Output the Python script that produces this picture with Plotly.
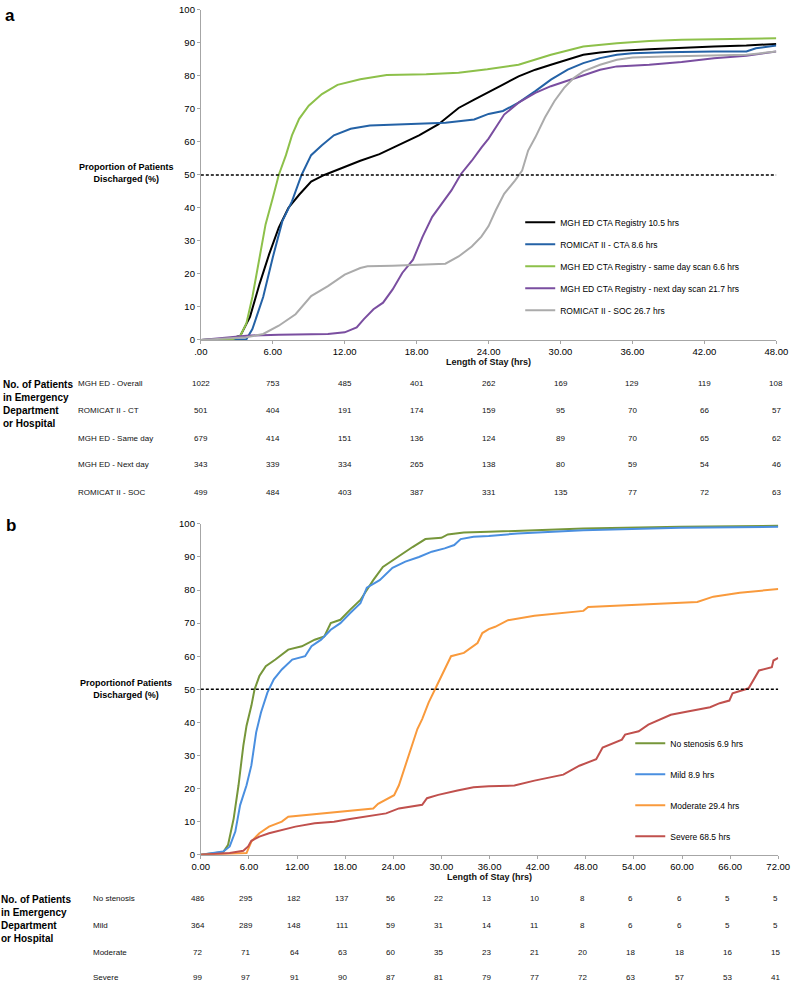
import plotly.graph_objects as go

W, H = 800, 988
FONT = "Arial, Liberation Sans, sans-serif"

# ---------------- Panel a data ----------------
a_names = ["MGH ED CTA Registry 10.5 hrs", "ROMICAT II - CTA 8.6 hrs",
           "MGH ED CTA Registry - same day scan 6.6 hrs",
           "MGH ED CTA Registry - next day scan 21.7 hrs", "ROMICAT II - SOC 26.7 hrs"]
a_colors = ["#000000", "#2462a6", "#8dc04a", "#7a4ea0", "#ababab"]

a_overall_x = [0, 2.4, 3.3, 4.1, 4.9, 5.7, 6.5, 7.3, 8.2, 9.2, 10.3, 12.0, 13.3, 14.9, 16.6, 18.2, 19.8,
               21.5, 22.8, 24.0, 25.2, 26.5, 27.9, 29.2, 30.6, 31.9, 33.3, 34.7, 37.4, 40.1, 42.8, 45.5, 48]
a_overall_y = [0, 0.3, 1.3, 7, 17, 26, 34, 40, 44, 48, 50, 52.5, 54.3, 56.3, 59.3, 62, 65.3,
               70.3, 72.8, 75, 77.4, 79.9, 81.9, 83.4, 84.9, 86.4, 87.1, 87.6, 88.1, 88.6, 88.9, 89.2, 89.7]

a_cta_x = [0, 3.8, 4.3, 5.2, 6.0, 6.8, 7.6, 8.4, 9.2, 10.1, 11.1, 12.5, 14.1, 17.4, 20.4, 22.8, 24.0, 25.2,
           26.5, 27.9, 29.2, 30.6, 31.9, 33.3, 34.7, 36.0, 38.7, 42.8, 45.5, 46.3, 48]
a_cta_y = [0, 0.2, 3.3, 13, 25, 36, 42, 50, 56, 59, 62, 64, 65, 65.5, 65.8, 66.8, 68.5, 69.4,
           71.9, 75.4, 78.9, 81.9, 83.9, 85.4, 86.4, 86.9, 87.2, 87.4, 87.4, 88.4, 89.2]

a_same_x = [0, 2.7, 3.3, 3.8, 4.3, 4.9, 5.4, 6.0, 6.5, 7.1, 7.6, 8.2, 9.0, 10.1, 11.4, 13.3, 15.5, 18.8,
            21.5, 23.9, 26.5, 29.2, 31.9, 34.7, 37.4, 40.1, 42.8, 48]
a_same_y = [0, 0.3, 1.3, 5, 13, 25, 35, 43, 50, 56, 62, 67, 71, 74.5, 77.3, 79, 80.3, 80.5,
            81, 82, 83.4, 86.4, 88.9, 89.9, 90.6, 91, 91.1, 91.4]

a_next_x = [0, 3.8, 6.5, 10.6, 12.0, 13.0, 13.6, 14.4, 15.2, 16.0, 16.8, 17.7, 18.5, 19.3, 20.1, 20.9,
            21.7, 22.6, 23.4, 24.0, 24.6, 25.3, 26.5, 27.9, 29.2, 30.6, 31.9, 33.3, 34.7, 37.4, 40.1,
            42.8, 45.5, 48]
a_next_y = [0, 1.3, 1.6, 1.8, 2.3, 3.8, 6.3, 9.3, 11.3, 15.3, 20.3, 24.3, 31.3, 37.3, 41.3, 45.3,
            50.3, 54.3, 58.3, 61, 64.4, 68.3, 71.9, 74.9, 76.9, 78.6, 80.4, 81.9, 82.9, 83.4, 84.2,
            85.4, 86.1, 87.4]

a_soc_x = [0, 3.8, 5.2, 6.5, 7.9, 9.2, 10.6, 12.0, 13.3, 13.9, 16.0, 18.8, 20.4, 21.5, 22.6, 23.4, 24.0,
           24.6, 25.3, 26.2, 26.8, 27.3, 27.9, 28.7, 29.5, 30.3, 31.1, 31.9, 33.3, 34.7, 36.0, 38.7,
           42.8, 45.5, 48]
a_soc_y = [0, 0.8, 1.8, 4.3, 7.8, 13.3, 16.3, 19.8, 21.8, 22.3, 22.5, 22.8, 23.1, 25.3, 28.3, 31.3, 34.5,
           39.3, 44.3, 48.3, 51.3, 57.4, 61.4, 67.4, 72.4, 76.4, 79.4, 81.4, 83.4, 84.9, 85.6, 85.9,
           86.2, 86.4, 87.4]

a_tickvals = [0, 6, 12, 18, 24, 30, 36, 42, 48]
a_ticktext = [".00", "6.00", "12.00", "18.00", "24.00", "30.00", "36.00", "42.00", "48.00"]

a_row_labels = ["MGH ED - Overall", "ROMICAT II - CT", "MGH ED - Same day", "MGH ED - Next day",
                "ROMICAT II - SOC"]
a_row_overall = [1022, 753, 485, 401, 262, 169, 129, 119, 108]
a_row_ct = [501, 404, 191, 174, 159, 95, 70, 66, 57]
a_row_same = [679, 414, 151, 136, 124, 89, 70, 65, 62]
a_row_next = [343, 339, 334, 265, 138, 80, 59, 54, 46]
a_row_soc = [499, 484, 403, 387, 331, 135, 77, 72, 63]

# ---------------- Panel b data ----------------
b_names = ["No stenosis 6.9 hrs", "Mild 8.9 hrs", "Moderate 29.4 hrs", "Severe 68.5 hrs"]
b_colors = ["#76963a", "#4a8fe0", "#f99a3c", "#c0504d"]

b_none_x = [0, 2.8, 3.4, 4.1, 4.7, 5.3, 5.7, 6.3, 6.7, 7.3, 8.1, 9.3, 10.9, 12.6, 14.2, 15.4, 16.2, 17.4,
            18.6, 19.9, 20.7, 21.5, 22.7, 23.9, 25.1, 26.4, 28.0, 30.0, 30.8, 32.8, 35.9, 47.7, 59.8, 72]
b_none_y = [0, 0.8, 3, 11, 21, 33, 39, 45, 50, 54, 57, 59, 62, 63, 65, 66, 70, 71,
            74, 77, 80, 83, 87, 89, 91, 93, 95.4, 95.8, 96.8, 97.4, 97.6, 98.6, 99.1, 99.4]

b_mild_x = [0, 2.8, 3.6, 4.3, 4.9, 5.7, 6.3, 6.9, 7.5, 8.3, 9.1, 10.1, 11.4, 13.0, 13.8, 15.0, 16.2, 17.4,
            18.6, 19.9, 20.7, 22.3, 23.9, 25.5, 27.2, 28.8, 30.4, 31.6, 32.4, 34.0, 35.9, 39.5, 47.7,
            59.8, 72]
b_mild_y = [0, 1, 2.5, 7, 15, 21, 27, 37, 43, 49, 53, 56, 59, 60, 63, 65, 68, 70,
            73, 76, 80.7, 83, 86.7, 88.6, 90, 91.6, 92.6, 93.6, 95.4, 96.1, 96.3, 97.1, 98.1,
            98.8, 99.1]

b_mod_x = [0, 5.7, 6.3, 7.3, 8.5, 10.1, 10.9, 13.8, 17.8, 21.5, 22.1, 24.1, 24.7, 25.5, 26.3, 27.0, 27.6,
           28.4, 29.4, 30.4, 31.2, 32.8, 34.5, 35.1, 35.9, 36.7, 38.3, 41.6, 47.7, 48.3, 55.8, 61.9,
           63.9, 67.2, 72]
b_mod_y = [0, 0.5, 4, 6.5, 8.5, 10, 11.5, 12.2, 13.2, 14, 15.4, 18, 21, 27, 33, 38, 41,
           46, 51, 56, 60, 61, 64, 67, 68.2, 68.9, 70.9, 72.2, 73.7, 74.9, 75.8, 76.4,
           78, 79.2, 80.3]

b_sev_x = [0, 3.6, 5.3, 5.9, 6.3, 7.3, 8.5, 10.1, 11.8, 14.2, 16.6, 18.6, 21.1, 23.1, 24.7, 27.6, 28.2,
           29.6, 32.0, 34.0, 35.9, 39.1, 41.6, 45.2, 47.2, 49.3, 50.1, 52.5, 52.9, 54.6, 55.8, 58.6,
           60.7, 63.5, 64.7, 65.9, 66.3, 68.3, 69.6, 71.2, 71.4, 72]
b_sev_y = [0, 0.5, 1.2, 2.5, 4.2, 5.5, 6.5, 7.5, 8.5, 9.5, 10, 10.8, 11.8, 12.5, 14, 15.1, 17.1,
           18.1, 19.4, 20.4, 20.7, 20.9, 22.4, 24.2, 26.9, 28.9, 32.4, 34.8, 36.3, 37.3, 39.3, 42.3,
           43.3, 44.6, 45.8, 46.6, 48.8, 50.3, 55.7, 56.7, 58.7, 59.5]

b_tickvals = [0, 6, 12, 18, 24, 30, 36, 42, 48, 54, 60, 66, 72]
b_ticktext = ["0.00", "6.00", "12.00", "18.00", "24.00", "30.00", "36.00", "42.00", "48.00",
              "54.00", "60.00", "66.00", "72.00"]

b_row_labels = ["No stenosis", "Mild", "Moderate", "Severe"]
b_row_none = [486, 295, 182, 137, 56, 22, 13, 10, 8, 6, 6, 5, 5]
b_row_mild = [364, 289, 148, 111, 59, 31, 14, 11, 8, 6, 6, 5, 5]
b_row_mod = [72, 71, 64, 63, 60, 35, 23, 21, 20, 18, 18, 16, 15]
b_row_sev = [99, 97, 91, 90, 87, 81, 79, 77, 72, 63, 57, 53, 41]

y_tickvals = [0, 10, 20, 30, 40, 50, 60, 70, 80, 90, 100]


def py(p):
    """pixel row -> paper y"""
    return 1 - p / H


def px(p):
    return p / W


fig = go.Figure()

a_series = [(a_overall_x, a_overall_y), (a_cta_x, a_cta_y), (a_same_x, a_same_y),
            (a_next_x, a_next_y), (a_soc_x, a_soc_y)]
for i, ((xs, ys), name, col) in enumerate(zip(a_series, a_names, a_colors)):
    fig.add_trace(go.Scatter(x=xs, y=ys, mode="lines", name=name, line=dict(color=col, width=2),
                             xaxis="x", yaxis="y", legend="legend", legendgroup="a%d" % i))

b_series = [(b_none_x, b_none_y), (b_mild_x, b_mild_y), (b_mod_x, b_mod_y), (b_sev_x, b_sev_y)]
for i, ((xs, ys), name, col) in enumerate(zip(b_series, b_names, b_colors)):
    fig.add_trace(go.Scatter(x=xs, y=ys, mode="lines", name=name, line=dict(color=col, width=2),
                             xaxis="x2", yaxis="y2", legend="legend2", legendgroup="b%d" % i))

axis_common = dict(showgrid=False, zeroline=False, showline=True, linecolor="#a6a6a6", linewidth=1,
                   ticks="outside", ticklen=3, tickcolor="#a6a6a6",
                   tickfont=dict(family=FONT, size=9.5, color="#000"))

fig.update_layout(
    width=W, height=H, margin=dict(l=0, r=0, t=0, b=0),
    paper_bgcolor="white", plot_bgcolor="white",
    font=dict(family=FONT, color="#111"),
    xaxis=dict(domain=[px(197), px(788)], range=[0, 48], tickvals=a_tickvals, ticktext=a_ticktext,
               anchor="y",
               title=dict(text="<b>Length of Stay (hrs)</b>", font=dict(family=FONT, size=9), standoff=1),
               **axis_common),
    yaxis=dict(domain=[py(337.7), py(4)], range=[0, 100], tickvals=y_tickvals, anchor="x", **axis_common),
    xaxis2=dict(domain=[px(197), px(790)], range=[0, 72], tickvals=b_tickvals, ticktext=b_ticktext,
                anchor="y2",
                title=dict(text="<b>Length of Stay (hrs)</b>", font=dict(family=FONT, size=9), standoff=1),
                **axis_common),
    yaxis2=dict(domain=[py(858.3), py(523.7)], range=[0, 100], tickvals=y_tickvals, anchor="x2",
                **axis_common),
    legend=dict(x=px(525), y=py(204), xanchor="left", yanchor="top", tracegroupgap=3,
                bgcolor="rgba(0,0,0,0)", font=dict(family=FONT, size=8.5, color="#000"), itemwidth=30),
    legend2=dict(x=px(638), y=py(731), xanchor="left", yanchor="top", tracegroupgap=12,
                 bgcolor="rgba(0,0,0,0)", font=dict(family=FONT, size=8.5, color="#000"), itemwidth=30),
    showlegend=True,
)

# 50% reference lines
fig.add_shape(type="line", xref="x", yref="y", x0=0, x1=48, y0=50, y1=50,
              line=dict(color="#000", width=1.5, dash="3px,2px"))
fig.add_shape(type="line", xref="x2", yref="y2", x0=0, x1=72, y0=50, y1=50,
              line=dict(color="#000", width=1.5, dash="3px,2px"))

ann = []
# panel letters
ann.append(dict(text="<b>a</b>", x=px(0), y=py(-2), xanchor="left", yanchor="top", showarrow=False,
                xshift=-6, font=dict(family=FONT, size=17, color="#000")))
ann.append(dict(text="<b>b</b>", x=px(0), y=py(514), xanchor="left", yanchor="top", showarrow=False,
                xshift=-5, font=dict(family=FONT, size=17, color="#000")))
# y titles
ann.append(dict(text="<b>Proportion of Patients<br>Discharged (%)</b>", x=px(126), y=py(169),
                xanchor="center", yanchor="middle", showarrow=False, align="center", xshift=-5,
                font=dict(family=FONT, size=9, color="#000")))
ann.append(dict(text="<b>Proportionof Patients<br>Discharged (%)</b>", x=px(125), y=py(691),
                xanchor="center", yanchor="middle", showarrow=False, align="center", xshift=-5,
                font=dict(family=FONT, size=9, color="#000")))
# table headers
hdr = "<b>No. of Patients<br>in Emergency<br>Department<br>or Hospital</b>"
ann.append(dict(text=hdr, x=px(0), y=py(375), xanchor="left", yanchor="top", showarrow=False,
                align="left", xshift=-8, font=dict(family=FONT, size=10, color="#000")))
ann.append(dict(text=hdr, x=px(0), y=py(896), xanchor="left", yanchor="top", showarrow=False,
                align="left", xshift=-10, font=dict(family=FONT, size=10, color="#000")))

tfont = dict(family=FONT, size=8, color="#111")
a_rows = [a_row_overall, a_row_ct, a_row_same, a_row_next, a_row_soc]
a_row_py = [382, 409, 437, 464, 492]
for lab, vals, rp in zip(a_row_labels, a_rows, a_row_py):
    ann.append(dict(text=lab, x=px(76), y=py(rp), xanchor="left", yanchor="middle", showarrow=False,
                    xshift=-7, font=tfont))
    for t, v in zip(a_tickvals, vals):
        ann.append(dict(text=str(v), x=t, xref="x", y=py(rp), yref="paper", xanchor="center",
                        yanchor="middle", showarrow=False, font=tfont))

b_rows = [b_row_none, b_row_mild, b_row_mod, b_row_sev]
b_row_py = [903, 930, 957, 982]
for lab, vals, rp in zip(b_row_labels, b_rows, b_row_py):
    ann.append(dict(text=lab, x=px(91), y=py(rp), xanchor="left", yanchor="middle", showarrow=False,
                    xshift=-7, font=tfont))
    for t, v in zip(b_tickvals, vals):
        ann.append(dict(text=str(v), x=t, xref="x2", y=py(rp), yref="paper", xanchor="center",
                        yanchor="middle", showarrow=False, xshift=-3, font=tfont))

for a in ann:
    a.setdefault("xref", "paper")
    a.setdefault("yref", "paper")
fig.update_layout(annotations=ann)

fig.write_html("out.html", config={"displayModeBar": False},
               post_script="document.body.style.margin='0';document.body.style.padding='0';"
                           "document.body.style.overflow='hidden';")
